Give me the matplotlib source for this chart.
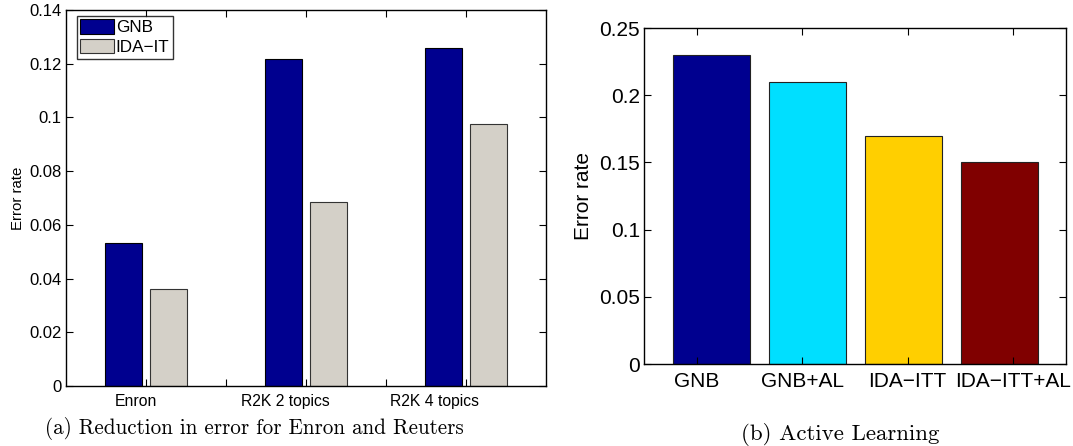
import matplotlib.pyplot as plt
import numpy as np
from matplotlib.ticker import FormatStrFormatter

# data
groups = ['Enron', 'R2K 2 topics', 'R2K 4 topics']
gnb = [0.0531, 0.1217, 0.1258]
ida_it = [0.0361, 0.0686, 0.0974]

methods = ['GNB', 'GNB+AL', 'IDA\u2212ITT', 'IDA\u2212ITT+AL']
al_err = [0.23, 0.21, 0.17, 0.15]

plt.rcParams['font.family'] = ['Liberation Sans', 'DejaVu Sans']

W, H = 1073, 446
fig = plt.figure(figsize=(W / 100, H / 100), dpi=100)


def px_axes(x0, y0, x1, y1):
    return fig.add_axes([x0 / W, 1 - y1 / H, (x1 - x0) / W, (y1 - y0) / H])


def style(ax, size):
    ax.tick_params(direction='in', length=5, width=0.8, top=True, right=True,
                   labelsize=size, pad=3)
    for s in ax.spines.values():
        s.set_linewidth(1.0)
    ax.yaxis.set_major_formatter(FormatStrFormatter('%g'))


# (a) grouped bars
ax1 = px_axes(66, 10, 546, 386)
x = np.arange(1, len(groups) + 1)
bw = 0.232
off = 0.143
ax1.bar(x - off, gnb, bw, color='#00008f', edgecolor='black', linewidth=0.8, label='GNB')
ax1.bar(x + off, ida_it, bw, color='#d4d0c8', edgecolor='#333333', linewidth=0.8, label='IDA\u2212IT')
ax1.set_xlim(0.5, 3.5)
ax1.set_ylim(0, 0.14)
ax1.set_yticks(np.arange(0, 0.141, 0.02))
ax1.set_xticks([1, 1.5, 2, 2.5, 3])
ax1.set_xticklabels([])
style(ax1, 12)
for gx, name in zip([0.94, 1.87, 2.80], groups):
    ax1.text(gx, -0.0031, name, ha='center', va='top', fontsize=11.3,
             transform=ax1.transData)
ax1.set_ylabel('Error rate', fontsize=10.8, labelpad=3)
leg = ax1.legend(loc='upper left', bbox_to_anchor=(0.022, 0.985), fontsize=12.3,
                 frameon=True, fancybox=False, edgecolor='black',
                 handlelength=1.95, handleheight=0.9, handletextpad=0.12,
                 labelspacing=0.22, borderpad=0.22, borderaxespad=0)
leg.get_frame().set_linewidth(1.0)

# (b) active learning
ax2 = px_axes(644, 28, 1066, 364)
xb = np.arange(1, len(methods) + 1)
ax2.bar(xb, al_err, 0.8, color=['#00008f', '#00dfff', '#ffcf00', '#800000'],
        edgecolor='#222222', linewidth=0.8)
lo, hi = 0.3, 4.69
ax2.set_xlim(lo, hi)
ax2.set_ylim(0, 0.25)
ax2.set_yticks(np.arange(0, 0.251, 0.05))
ax2.set_xticks([lo + (k + 0.5) / len(methods) * (hi - lo) for k in range(len(methods))])
ax2.set_xticklabels(methods)
style(ax2, 15)
ax2.tick_params(axis='x', pad=6)
ax2.set_ylabel('Error rate', fontsize=15, labelpad=4)

# captions
fig.text(254 / W, 1 - 428 / H, '(a) Reduction in error for Enron and Reuters',
         family='cmr10', fontsize=15.2, ha='center', va='center')
fig.text(840 / W, 1 - 435 / H, '(b) Active Learning',
         family='cmr10', fontsize=16.5, ha='center', va='center')

fig.savefig('out.png', dpi=100)
